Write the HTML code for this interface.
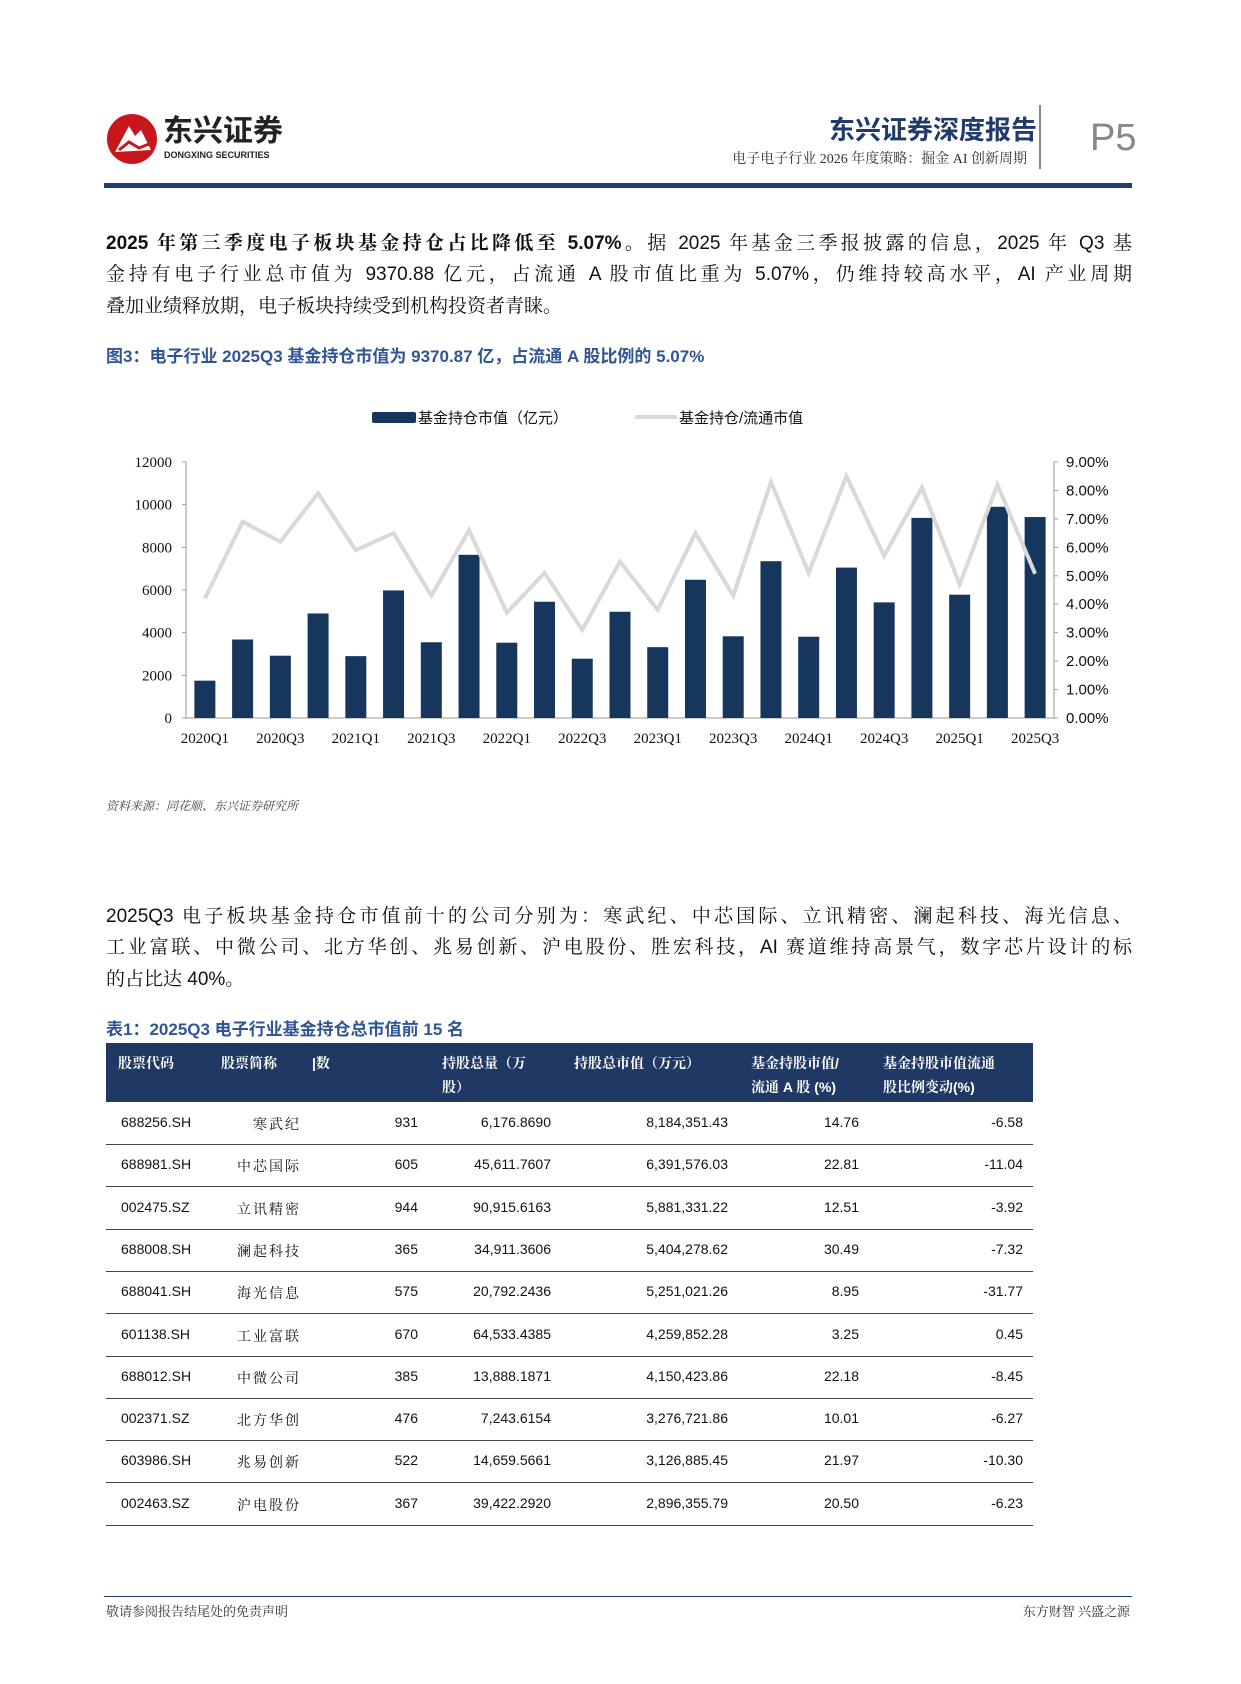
<!DOCTYPE html>
<html><head><meta charset="utf-8">
<style>
body{margin:0;background:#fff;}
#page{position:relative;width:1241px;height:1684px;overflow:hidden;font-family:"Liberation Sans","Noto Sans CJK SC",sans-serif;color:#111;}
.a{position:absolute;white-space:nowrap;}
.p{font-size:19px;left:106px;width:1026px;text-align:justify;text-align-last:justify;font-family:"Liberation Sans","Noto Serif CJK SC",serif;}
.row{position:absolute;left:106px;width:927px;height:42px;border-bottom:1px solid #444;font-size:14px;font-family:"Liberation Sans","Noto Serif CJK SC",serif;}
.row span{position:absolute;top:12px;}
.hd{position:absolute;color:#fff;font-size:14px;font-weight:bold;font-family:"Liberation Sans","Noto Serif CJK SC",serif;}
</style></head><body>
<div id="page">
<svg class="a" style="left:105px;top:112px" width="54" height="54"><circle cx="27" cy="27" r="25" fill="#c8161d"/><path d="M10 40 L24 14 L30 24 L36 18 L46 38 Z" fill="#fff"/><path d="M14 38 L24 30 L34 36 L44 32" stroke="#c8161d" stroke-width="3" fill="none"/></svg>
<div class="a" style="left:163px;top:117px;font-size:30px;line-height:1;font-weight:bold;color:#222">东兴证券</div>
<div class="a" style="left:164px;top:151px;font-size:9px;line-height:1;font-weight:bold;color:#222">DONGXING SECURITIES</div>
<div class="a" style="left:829px;top:110px;font-size:26px;font-weight:bold;color:#1f3a6b">东兴证券深度报告</div>
<div class="a" style="right:214px;top:148px;font-size:14px;color:#333;font-family:'Liberation Serif','Noto Serif CJK SC',serif">电子电子行业 2026 年度策略：掘金 AI 创新周期</div>
<div class="a" style="left:1039px;top:105px;width:2px;height:64px;background:#888"></div>
<div class="a" style="left:1090px;top:117px;font-size:38px;color:#888">P5</div>
<div class="a" style="left:104px;top:183px;width:1028px;height:5px;background:#1f3f73"></div>

<div class="a p" style="top:228px"><b>2025 年第三季度电子板块基金持仓占比降低至 5.07%。</b>据 2025 年基金三季报披露的信息，2025 年 Q3 基</div>
<div class="a p" style="top:259px">金持有电子行业总市值为 9370.88 亿元，占流通 A 股市值比重为 5.07%，仍维持较高水平，AI 产业周期</div>
<div class="a" style="left:106px;top:291px;font-size:19px;font-family:'Liberation Sans','Noto Serif CJK SC',serif">叠加业绩释放期，电子板块持续受到机构投资者青睐。</div>
<div class="a" style="left:106px;top:342px;font-size:17px;font-weight:bold;color:#2f5597">图3：电子行业 2025Q3 基金持仓市值为 9370.87 亿，占流通 A 股比例的 5.07%</div>

<svg class="a" style="left:0;top:392px" width="1241" height="380" id="chart"></svg>

<div class="a" style="left:106px;top:797px;font-size:12px;font-style:italic;color:#444;font-family:'Liberation Serif','Noto Serif CJK SC',serif">资料来源：同花顺、东兴证券研究所</div>

<div class="a p" style="top:901px">2025Q3 电子板块基金持仓市值前十的公司分别为：寒武纪、中芯国际、立讯精密、澜起科技、海光信息、</div>
<div class="a p" style="top:932px">工业富联、中微公司、北方华创、兆易创新、沪电股份、胜宏科技，AI 赛道维持高景气，数字芯片设计的标</div>
<div class="a" style="left:106px;top:964px;font-size:19px;font-family:'Liberation Sans','Noto Serif CJK SC',serif">的占比达 40%。</div>
<div class="a" style="left:106px;top:1015px;font-size:17px;font-weight:bold;color:#2f5597">表1：2025Q3 电子行业基金持仓总市值前 15 名</div>

<div class="a" style="left:106px;top:1043px;width:927px;height:59px;background:#1f3864">
<div class="hd" style="left:12px;top:10px">股票代码</div>
<div class="hd" style="left:115px;top:10px">股票简称</div>
<div class="hd" style="left:206px;top:10px">|数</div>
<div class="hd" style="left:336px;top:10px">持股总量（万</div><div class="hd" style="left:336px;top:34px">股）</div>
<div class="hd" style="left:468px;top:10px">持股总市值（万元）</div>
<div class="hd" style="left:645px;top:10px">基金持股市值/</div><div class="hd" style="left:645px;top:34px">流通 A 股 (%)</div>
<div class="hd" style="left:777px;top:10px">基金持股市值流通</div><div class="hd" style="left:777px;top:34px">股比例变动(%)</div>
</div>
<div id="rows"></div>

<div class="a" style="left:104px;top:1596px;width:1028px;height:1px;background:#1f3f73"></div>
<div class="a" style="left:106px;top:1601px;font-size:13px;color:#333;font-family:'Liberation Serif','Noto Serif CJK SC',serif">敬请参阅报告结尾处的免责声明</div>
<div class="a" style="right:111px;top:1601px;font-size:13px;color:#333;font-family:'Liberation Serif','Noto Serif CJK SC',serif">东方财智 兴盛之源</div>
</div>
<script>
const categories=["2020Q1","2020Q2","2020Q3","2020Q4","2021Q1","2021Q2","2021Q3","2021Q4","2022Q1","2022Q2","2022Q3","2022Q4","2023Q1","2023Q2","2023Q3","2023Q4","2024Q1","2024Q2","2024Q3","2024Q4","2025Q1","2025Q2","2025Q3"];
const holdingValue=[1750,3680,2920,4900,2900,5980,3550,7650,3530,5450,2780,4980,3320,6480,3830,7350,3810,7050,5420,9380,5780,9900,9420];
const holdingRatio=[4.2,6.9,6.2,7.9,5.9,6.5,4.3,6.6,3.7,5.1,3.1,5.5,3.8,6.5,4.3,8.3,5.1,8.5,5.7,8.1,4.7,8.2,5.07];
const leftTicks=[0,2000,4000,6000,8000,10000,12000];
const rightTicks=[0,1,2,3,4,5,6,7,8,9];
const NS="http://www.w3.org/2000/svg";
const svg=document.getElementById('chart');
const X0=186,X1=1054,Y0=326,Y1=70;
const step=(X1-X0)/categories.length;
const xc=i=>X0+step*(i+0.5);
const yl=v=>Y0-(v/12000)*(Y0-Y1);
const yr=v=>Y0-(v/9)*(Y0-Y1);
function mk(t,a){const e=document.createElementNS(NS,t);for(const k in a)e.setAttribute(k,a[k]);svg.appendChild(e);return e;}
let e;
e=mk('line',{x1:X0,y1:Y1,x2:X0,y2:Y0,stroke:'#999'});
e=mk('line',{x1:X1,y1:Y1,x2:X1,y2:Y0,stroke:'#999'});
e=mk('line',{x1:X0,y1:Y0,x2:X1,y2:Y0,stroke:'#999'});
leftTicks.forEach(v=>{mk('line',{x1:X0-4,x2:X0,y1:yl(v),y2:yl(v),stroke:'#999'});
e=mk('text',{x:X0-14,y:yl(v)+5,'text-anchor':'end','font-size':15,'font-family':'Liberation Serif',fill:'#111'});e.textContent=v;
});
rightTicks.forEach(v=>{mk('line',{x1:X1,x2:X1+4,y1:yr(v),y2:yr(v),stroke:'#999'});
e=mk('text',{x:X1+12,y:yr(v)+5,'font-size':15,'font-family':'Liberation Sans',fill:'#111'});e.textContent=v.toFixed(2)+'%';
});
holdingValue.forEach((v,i)=>{e=mk('rect',{x:xc(i)-10.5,y:yl(v),width:21,height:Y0-yl(v),fill:'#17365d'});

if(i%2==0){const t=mk('text',{x:xc(i),y:Y0+25,'text-anchor':'middle','font-size':15,'font-family':'Liberation Serif',fill:'#111'});t.textContent=categories[i];
}});
e=mk('polyline',{points:holdingRatio.map((v,i)=>xc(i)+','+yr(v)).join(' '),fill:'none',stroke:'#d9d9d9','stroke-width':4,'stroke-linejoin':'miter'});

e=mk('rect',{x:372,y:20,width:44,height:11,fill:'#17365d',rx:2});
e=mk('text',{x:418,y:31,'font-size':15,fill:'#111'});e.textContent='基金持仓市值（亿元）';
e=mk('line',{x1:635,y1:25,x2:677,y2:25,stroke:'#d9d9d9','stroke-width':4});
e=mk('text',{x:679,y:31,'font-size':15,fill:'#111'});e.textContent='基金持仓/流通市值';

const tbl=[["688256.SH","寒武纪","931","6,176.8690","8,184,351.43","14.76","-6.58"],
["688981.SH","中芯国际","605","45,611.7607","6,391,576.03","22.81","-11.04"],
["002475.SZ","立讯精密","944","90,915.6163","5,881,331.22","12.51","-3.92"],
["688008.SH","澜起科技","365","34,911.3606","5,404,278.62","30.49","-7.32"],
["688041.SH","海光信息","575","20,792.2436","5,251,021.26","8.95","-31.77"],
["601138.SH","工业富联","670","64,533.4385","4,259,852.28","3.25","0.45"],
["688012.SH","中微公司","385","13,888.1871","4,150,423.86","22.18","-8.45"],
["002371.SZ","北方华创","476","7,243.6154","3,276,721.86","10.01","-6.27"],
["603986.SH","兆易创新","522","14,659.5661","3,126,885.45","21.97","-10.30"],
["002463.SZ","沪电股份","367","39,422.2920","2,896,355.79","20.50","-6.23"]];
const rights=[null,195,312,445,622,753,917];
const rows=document.getElementById('rows');
tbl.forEach((r,i)=>{const d=document.createElement('div');d.className='row';d.style.top=(1102+i*42.3)+'px';


r.forEach((c,j)=>{const s=document.createElement('span');s.textContent=c;
if(j==0){s.style.left='15px';}else{s.style.right=(927-rights[j])+'px';}
if(j==1)s.style.letterSpacing='2px';
d.appendChild(s);});rows.appendChild(d);});
</script>
</body></html>
